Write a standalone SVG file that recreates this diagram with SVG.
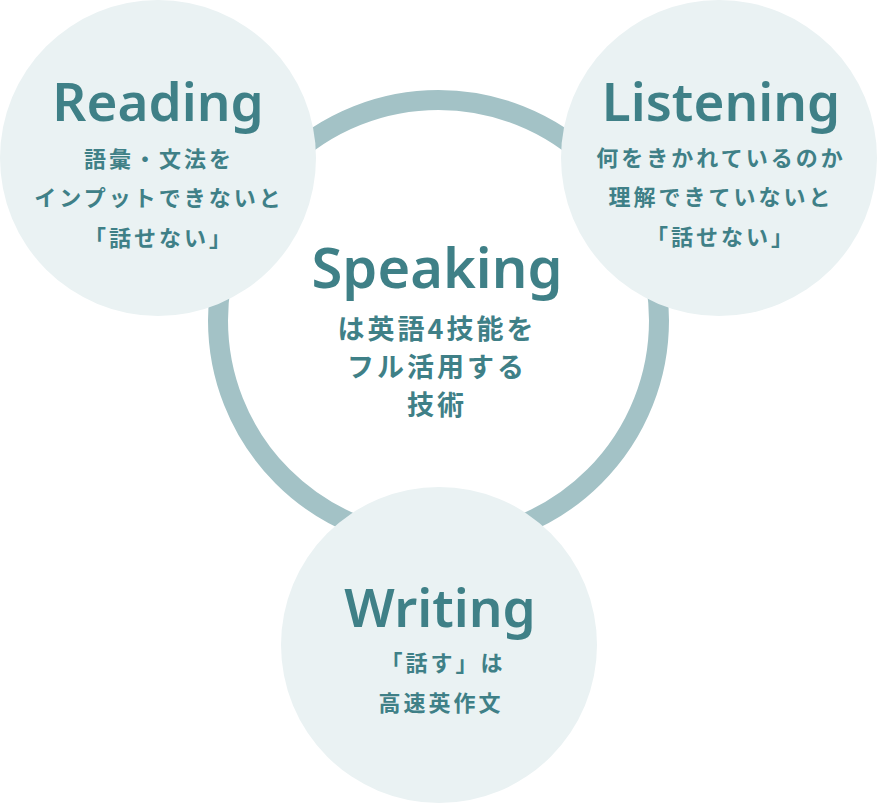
<svg xmlns="http://www.w3.org/2000/svg" width="878" height="804" viewBox="0 0 878 804">
<style>
.ring{fill:none;stroke:#a3c2c6;stroke-width:20}
.node{fill:#eaf2f3}
.title{font-family:"Noto Sans","Liberation Sans",sans-serif;font-weight:600;fill:#3f8087;text-anchor:middle}
.jp{font-family:"Noto Sans CJK JP","Noto Sans",sans-serif;font-weight:700;fill:#3f8087;text-anchor:middle;font-size:22px;letter-spacing:3px}
.jpl{font-family:"Noto Sans CJK JP","Noto Sans",sans-serif;font-weight:700;fill:#3f8087;text-anchor:middle;font-size:27px;letter-spacing:3px}
</style>
<rect width="878" height="804" fill="#ffffff"/>
<g id="connectors">
<circle class="ring" cx="438.5" cy="320.5" r="220.5"/>
</g>
<g id="speaking">
<text class="title" x="437" y="288" font-size="56">Speaking</text>
<text class="jpl" x="437" y="339">は英語4技能を</text>
<text class="jpl" x="437" y="377">フル活用する</text>
<text class="jpl" x="437" y="415">技術</text>
</g>
<g id="reading">
<circle class="node" cx="158" cy="158" r="158"/>
<text class="title" x="158" y="121" font-size="53">Reading</text>
<text class="jp" x="159" y="167">語彙・文法を</text>
<text class="jp" x="159" y="206">インプットできないと</text>
<text class="jp" x="159" y="246">「話せない」</text>
</g>
<g id="listening">
<circle class="node" cx="719" cy="158" r="158"/>
<text class="title" x="721" y="121" font-size="53">Listening</text>
<text class="jp" x="721" y="166">何をきかれているのか</text>
<text class="jp" x="721" y="205">理解できていないと</text>
<text class="jp" x="721" y="245">「話せない」</text>
</g>
<g id="writing">
<circle class="node" cx="439" cy="645" r="158"/>
<text class="title" x="440" y="627" font-size="53">Writing</text>
<text class="jp" x="443" y="671">「話す」は</text>
<text class="jp" x="441" y="711">高速英作文</text>
</g>
</svg>
